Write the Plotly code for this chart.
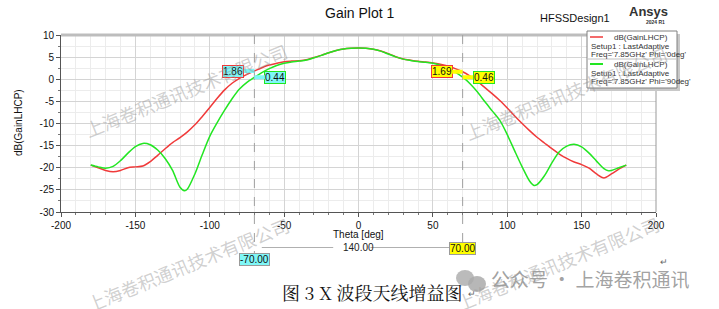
import plotly.graph_objects as go

# ---------------- data ----------------
theta_red = [-180, -175, -170, -165, -160, -155, -150, -145, -140, -135, -130, -125, -120, -115,
             -110, -105, -100, -95, -90, -85, -80, -75, -70, -65, -60, -55, -50, -45, -40, -35,
             -30, -25, -20, -15, -10, -5, 0, 5, 10, 15, 20, 25, 30, 35, 40, 45, 50, 55, 60, 65,
             70, 75, 80, 85, 90, 95, 100, 105, 110, 115, 120, 125, 130, 135, 140, 145, 150, 155,
             160, 165, 170, 175, 180]
gain_phi0 = [-19.4, -20.0, -20.6, -20.9, -20.6, -20.0, -19.8, -19.6, -18.6, -17.2, -15.7, -14.3,
             -13.2, -11.9, -10.3, -8.4, -6.4, -4.3, -2.4, -0.9, 0.2, 1.1, 1.86, 2.6, 3.2, 3.6,
             3.95, 4.1, 4.2, 4.4, 4.9, 5.4, 6.0, 6.5, 6.85, 7.0, 7.05, 7.0, 6.8, 6.4, 5.8, 5.1,
             4.6, 4.3, 4.05, 3.9, 3.7, 3.4, 3.0, 2.4, 1.69, 0.7, -0.5, -1.9, -3.3, -4.8, -6.5,
             -8.3, -10.0, -11.6, -13.1, -14.4, -15.7, -16.9, -17.9, -18.7, -19.3, -20.1, -21.4,
             -22.3, -21.4, -20.3, -19.4]

theta_green = [-180, -175, -170, -165, -160, -155, -150, -145, -140, -135, -130, -125, -120, -117,
               -115, -110, -105, -100, -95, -90, -85, -80, -75, -70, -65, -60, -55, -50, -45, -40,
               -35, -30, -25, -20, -15, -10, -5, 0, 5, 10, 15, 20, 25, 30, 35, 40, 45, 50, 55, 60,
               65, 70, 75, 80, 85, 90, 95, 100, 105, 110, 115, 118, 120, 125, 130, 135, 140, 145,
               150, 155, 160, 165, 168, 170, 175, 180]
gain_phi90 = [-19.4, -19.8, -20.1, -19.7, -18.4, -16.7, -15.2, -14.5, -14.8, -16.0, -17.9, -20.6,
              -24.4, -25.2, -24.8, -21.4, -17.0, -12.9, -9.8, -7.0, -4.4, -2.2, -0.7, 0.44, 1.5,
              2.4, 3.1, 3.6, 3.9, 4.1, 4.35, 4.85, 5.4, 6.0, 6.5, 6.85, 7.0, 7.05, 7.0, 6.8, 6.35,
              5.7, 5.05, 4.55, 4.25, 4.0, 3.85, 3.6, 3.2, 2.5, 1.6, 0.46, -1.0, -2.9, -5.1, -7.2,
              -9.3, -12.5, -16.2, -19.8, -23.0, -24.0, -23.8, -21.8, -18.9, -16.4, -15.1, -14.7,
              -15.3, -16.7, -18.5, -20.2, -20.7, -20.6, -20.0, -19.4]

marker_theta = [-70, 70]
marker_red = [1.86, 1.69]
marker_green = [0.44, 0.46]
marker_fill = ["#7ff7f7", "#ffff00"]
x_ticks = [-200, -150, -100, -50, 0, 50, 100, 150, 200]
y_ticks = [10, 5, 0, -5, -10, -15, -20, -25, -30]

RED = "#f03a3a"
GREEN = "#22e622"
FONT = "Liberation Sans, Arial, sans-serif"

W, H = 719, 309
L, R, T, B = 61, 656, 35, 212


def px(x):
    return (x - L) / (R - L)


def py(y):
    return (B - y) / (B - T)


def note(x, y, text, size=10, color="#111", family=FONT, xanchor="center", angle=0, **kw):
    d = dict(x=px(x), y=py(y), xref="paper", yref="paper", text=text, showarrow=False,
             xanchor=xanchor, yanchor="middle", textangle=angle,
             font=dict(family=family, size=size, color=color))
    d.update(kw)
    return d


fig = go.Figure()
fig.add_trace(go.Scatter(x=theta_red, y=gain_phi0, mode="lines",
                         line=dict(color=RED, width=1.5, shape="spline", smoothing=0.8),
                         showlegend=False))
fig.add_trace(go.Scatter(x=theta_green, y=gain_phi90, mode="lines",
                         line=dict(color=GREEN, width=1.5, shape="spline", smoothing=0.8),
                         showlegend=False))

shapes = []
annotations = []

# plot frame top / right
shapes.append(dict(type="line", xref="paper", yref="paper", x0=0, x1=1, y0=1, y1=1,
                   line=dict(color="#bdbdbd", width=3)))
shapes.append(dict(type="line", xref="paper", yref="paper", x0=1, x1=1, y0=0, y1=1,
                   line=dict(color="#9a9a9a", width=1)))

# marker dashed vertical lines
ends = [py(255), py(244)]
for t, e in zip(marker_theta, ends):
    shapes.append(dict(type="line", xref="x", yref="paper", x0=t, x1=t, y0=1, y1=e,
                       line=dict(color="#a0a0a0", width=1, dash="dash")))

# delta line between markers
shapes.append(dict(type="line", xref="x", yref="paper", x0=marker_theta[0] + 5, x1=-17,
                   y0=py(247.5), y1=py(247.5), line=dict(color="#b0b0b0", width=1)))
shapes.append(dict(type="line", xref="x", yref="paper", x0=8, x1=marker_theta[1] - 6,
                   y0=py(247.5), y1=py(247.5), line=dict(color="#b0b0b0", width=1)))
annotations.append(dict(x=0, xref="x", y=py(247.5), yref="paper", xanchor="center",
                        yanchor="middle",
                        text="%.2f" % (marker_theta[1] - marker_theta[0]), showarrow=False,
                        font=dict(family=FONT, size=10, color="#222")))
# marker position labels
annotations.append(dict(x=marker_theta[0], xref="x", y=py(259), yref="paper", xanchor="center",
                        yanchor="middle",
                        text="%.2f" % marker_theta[0], showarrow=False, bgcolor=marker_fill[0],
                        bordercolor="#9a9a9a", borderwidth=1, borderpad=0,
                        font=dict(family=FONT, size=10, color="#111")))
annotations.append(dict(x=marker_theta[1], xref="x", y=py(248.5), yref="paper", xanchor="center",
                        yanchor="middle",
                        text="%.2f" % marker_theta[1], showarrow=False, bgcolor=marker_fill[1],
                        bordercolor="#9a9a9a", borderwidth=1, borderpad=0,
                        font=dict(family=FONT, size=10, color="#111")))

# marker value labels on curves
for i, t in enumerate(marker_theta):
    annotations.append(dict(x=t, y=marker_red[i], xref="x", yref="y", text="%.2f" % marker_red[i],
                            showarrow=True, arrowhead=0, arrowwidth=4, arrowcolor=marker_fill[i],
                            ax=-21, ay=0, bgcolor=marker_fill[i], bordercolor=RED, borderwidth=1,
                            borderpad=0, font=dict(family=FONT, size=10, color="#111")))
    annotations.append(dict(x=t, y=marker_green[i], xref="x", yref="y",
                            text="%.2f" % marker_green[i],
                            showarrow=True, arrowhead=0, arrowwidth=4, arrowcolor=marker_fill[i],
                            ax=21, ay=0, bgcolor=marker_fill[i], bordercolor=GREEN, borderwidth=1,
                            borderpad=0, font=dict(family=FONT, size=10, color="#111")))

# legend box (drawn manually)
lx0, lx1, ly0, ly1 = 587, 677, 31, 88
shapes.append(dict(type="rect", xref="paper", yref="paper", x0=px(lx0 + 3), x1=px(lx1 + 3),
                   y0=py(ly1 + 3), y1=py(ly0 + 3), line=dict(width=0), fillcolor="#c8c8c8"))
shapes.append(dict(type="rect", xref="paper", yref="paper", x0=px(lx0), x1=px(lx1),
                   y0=py(ly1), y1=py(ly0), line=dict(color="#808080", width=1), fillcolor="white"))
shapes.append(dict(type="line", xref="paper", yref="paper", x0=px(lx0), x1=px(lx1),
                   y0=py(59), y1=py(59), line=dict(color="#c0c0c0", width=1)))
shapes.append(dict(type="line", xref="paper", yref="paper", x0=px(590), x1=px(603),
                   y0=py(37), y1=py(37), line=dict(color=RED, width=1.5)))
shapes.append(dict(type="line", xref="paper", yref="paper", x0=px(590), x1=px(603),
                   y0=py(64), y1=py(64), line=dict(color=GREEN, width=2)))
leg_lines = [("dB(GainLHCP)", 612, 37), ("Setup1 : LastAdaptive", 589, 46),
             ("Freq='7.85GHz' Phi='0deg'", 589, 54),
             ("dB(GainLHCP)", 612, 64), ("Setup1 : LastAdaptive", 589, 73),
             ("Freq='7.85GHz' Phi='90deg'", 589, 81)]
for txt, x, y in leg_lines:
    annotations.append(note(x, y, txt, size=8, color="#333", xanchor="left"))

# titles
annotations.append(note(359, 13, "Gain Plot 1", size=14))
annotations.append(note(575, 18, "HFSSDesign1", size=11))
annotations.append(note(648, 12, "<b>Ansys</b>", size=13, color="#333"))
annotations.append(note(655, 22, "<b>2024 R1</b>", size=5, color="#333"))
annotations.append(note(18, 122, "dB(GainLHCP)", size=10, angle=-90))
annotations.append(note(358, 234, "Theta [deg]", size=10))

# caption
annotations.append(note(372, 292, "图 3 X 波段天线增益图", size=18,
                        family="Noto Serif CJK SC, Noto Sans CJK SC"))
annotations.append(note(472, 294, "↵", size=9, color="#666"))
annotations.append(note(664, 262, "↵", size=9, color="#666"))

# watermarks
wm = "上海卷积通讯技术有限公司"
for cx, cy in [(186, 90), (566, 93), (188, 264), (558, 263)]:
    annotations.append(note(cx, cy, wm, size=18, color="rgba(150,150,150,0.45)",
                            family="Noto Sans CJK SC", angle=-22))

# wechat footer
shapes.append(dict(type="circle", xref="paper", yref="paper", x0=px(456), x1=px(474),
                   y0=py(286), y1=py(270), line=dict(width=0), fillcolor="rgba(170,170,170,0.8)"))
shapes.append(dict(type="circle", xref="paper", yref="paper", x0=px(468), x1=px(486),
                   y0=py(292), y1=py(276), line=dict(width=0), fillcolor="rgba(170,170,170,0.85)"))
annotations.append(note(489, 278, "公众号 · 上海卷积通讯", size=19,
                        color="rgba(150,150,150,0.9)", family="Noto Sans CJK SC",
                        xanchor="left"))

fig.update_layout(
    width=W, height=H,
    margin=dict(l=L, r=W - R, t=T, b=H - B),
    paper_bgcolor="white", plot_bgcolor="white",
    shapes=shapes, annotations=annotations,
    font=dict(family=FONT, size=10, color="#111"),
)
fig.update_xaxes(range=[-200, 200], tickvals=x_ticks, ticktext=[str(v) for v in x_ticks],
                 showgrid=True, gridcolor="#d4d4d4", gridwidth=1,
                 zeroline=False, showline=True, linecolor="#555", linewidth=1,
                 ticks="outside", ticklen=4, tickcolor="#555",
                 tickfont=dict(family=FONT, size=10, color="#111"),
                 minor=dict(dtick=10, showgrid=True, gridcolor="#ececec", ticks="outside",
                            ticklen=2, tickcolor="#777"))
fig.update_yaxes(range=[-30, 10], tickvals=y_ticks, ticktext=[str(v) for v in y_ticks],
                 showgrid=True, gridcolor="#d4d4d4", gridwidth=1,
                 zeroline=False, showline=True, linecolor="#555", linewidth=1,
                 ticks="outside", ticklen=4, tickcolor="#555",
                 tickfont=dict(family=FONT, size=10, color="#111"),
                 minor=dict(dtick=2.5, showgrid=True, gridcolor="#ececec", ticks="outside",
                            ticklen=2, tickcolor="#777"))

fig.write_html("out.html")
